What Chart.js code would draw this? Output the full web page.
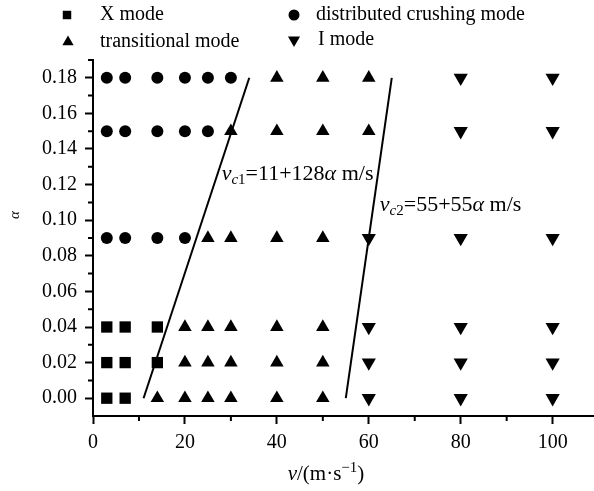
<!DOCTYPE html>
<html>
<head>
<meta charset="utf-8">
<script src="https://cdn.jsdelivr.net/npm/chart.js@4/dist/chart.umd.min.js"></script>
<style>
  html, body { margin: 0; padding: 0; background: #fff; }
  #canvas1 { width: 594px; height: 491px; position: relative; }
</style>
</head>
<body>
<div id="canvas1"><canvas id="Graphique"></canvas></div>
<script>
/*
  Carte des modes de rupture en fonction de la vitesse v et de alpha
*/

// X mode (carrés)
var xModeV = [3, 7, 14, 3, 7, 14, 3, 7];
var xModeAlpha = [0.04, 0.04, 0.04, 0.02, 0.02, 0.02, 0.00, 0.00];

// distributed crushing mode (cercles)
var crushV = [3, 7, 14, 20, 25, 30, 3, 7, 14, 20, 25, 3, 7, 14, 20];
var crushAlpha = [0.18, 0.18, 0.18, 0.18, 0.18, 0.18, 0.15, 0.15, 0.15, 0.15, 0.15, 0.09, 0.09, 0.09, 0.09];

// transitional mode (triangles)
var transV = [40, 50, 60, 30, 40, 50, 60, 25, 30, 40, 50, 20, 25, 30, 40, 50, 20, 25, 30, 40, 50, 14, 20, 25, 30, 40, 50];
var transAlpha = [0.18, 0.18, 0.18, 0.15, 0.15, 0.15, 0.15, 0.09, 0.09, 0.09, 0.09,
                  0.04, 0.04, 0.04, 0.04, 0.04, 0.02, 0.02, 0.02, 0.02, 0.02, 0.00, 0.00, 0.00, 0.00, 0.00, 0.00];

// I mode (triangles inversés)
var iModeV = [80, 100, 80, 100, 60, 80, 100, 60, 80, 100, 60, 80, 100, 60, 80, 100];
var iModeAlpha = [0.18, 0.18, 0.15, 0.15, 0.09, 0.09, 0.09, 0.04, 0.04, 0.04, 0.02, 0.02, 0.02, 0.00, 0.00, 0.00];

// vitesses critiques (extrémités des droites)
var vc1LineV = [11, 34];
var vc1LineAlpha = [0.00, 0.18];
var vc2LineV = [55, 65];
var vc2LineAlpha = [0.00, 0.18];

// graduations
var tickV = [0, 20, 40, 60, 80, 100];
var minorV = [10, 30, 50, 70, 90];
var tickAlpha = [0.00, 0.02, 0.04, 0.06, 0.08, 0.10, 0.12, 0.14, 0.16, 0.18];
var minorAlpha = [0.01, 0.03, 0.05, 0.07, 0.09, 0.11, 0.13, 0.15, 0.17, 0.19];

var SERIF = "'Liberation Serif', 'DejaVu Serif', serif";

function toPoints(xs, ys) {
    return xs.map(function (x, i) { return { x: x, y: ys[i] }; });
}

// écrit un texte en plusieurs morceaux (italique, indice, exposant)
function drawParts(ctx, x, y, parts) {
    parts.forEach(function (p) {
        ctx.font = p.font;
        ctx.fillText(p.t, x, y + (p.dy || 0));
        x += ctx.measureText(p.t).width;
    });
}

function partsWidth(ctx, parts) {
    var w = 0;
    parts.forEach(function (p) { ctx.font = p.font; w += ctx.measureText(p.t).width; });
    return w;
}

var decorPlugin = {
    id: 'decor',
    afterDraw: function (chart) {
        var ctx = chart.ctx;
        var xs = chart.scales.x;
        var ys = chart.scales.y;
        ctx.save();
        ctx.fillStyle = '#000';
        ctx.strokeStyle = '#000';
        ctx.lineWidth = 2;

        // petites graduations
        ctx.beginPath();
        minorV.forEach(function (v) {
            var px = xs.getPixelForValue(v);
            ctx.moveTo(px, chart.chartArea.bottom);
            ctx.lineTo(px, chart.chartArea.bottom + 5);
        });
        minorAlpha.forEach(function (a) {
            var py = ys.getPixelForValue(a);
            ctx.moveTo(chart.chartArea.left, py);
            ctx.lineTo(chart.chartArea.left - 5, py);
        });
        ctx.stroke();

        // légende
        var items = [
            { style: 'rect', r: 6, rot: 0, x: 67, y: 15, tx: 100, text: 'X mode' },
            { style: 'circle', r: 5.5, rot: 0, x: 294, y: 15, tx: 316, text: 'distributed crushing mode' },
            { style: 'triangle', r: 6.5, rot: 0, x: 68, y: 42, tx: 100, text: 'transitional mode' },
            { style: 'triangle', r: 7, rot: 180, x: 294, y: 40, tx: 318, text: 'I mode' }
        ];
        ctx.textBaseline = 'middle';
        items.forEach(function (it) {
            Chart.helpers.drawPoint(ctx, { pointStyle: it.style, radius: it.r, rotation: it.rot, borderWidth: 0 }, it.x, it.y);
            ctx.font = '20px ' + SERIF;
            ctx.fillText(it.text, it.tx, it.y);
        });

        // équations des droites
        ctx.textBaseline = 'alphabetic';
        var big = '22px ' + SERIF;
        var bigIt = 'italic 22px ' + SERIF;
        var sub = 'italic 15px ' + SERIF;
        var sub1 = '15px ' + SERIF;
        drawParts(ctx, xs.getPixelForValue(28), ys.getPixelForValue(0.1226), [
            { t: 'v', font: bigIt }, { t: 'c', font: sub, dy: 4 }, { t: '1', font: sub1, dy: 4 },
            { t: '=11+128', font: big }, { t: 'α', font: bigIt }, { t: ' m/s', font: big }
        ]);
        drawParts(ctx, xs.getPixelForValue(62.4), ys.getPixelForValue(0.105), [
            { t: 'v', font: bigIt }, { t: 'c', font: sub, dy: 4 }, { t: '2', font: sub1, dy: 4 },
            { t: '=55+55', font: big }, { t: 'α', font: bigIt }, { t: ' m/s', font: big }
        ]);

        // titre axe x
        var xt = [
            { t: 'v', font: 'italic 21px ' + SERIF }, { t: '/(m·s', font: '21px ' + SERIF },
            { t: '−1', font: '15px ' + SERIF, dy: -8 }, { t: ')', font: '21px ' + SERIF }
        ];
        drawParts(ctx, 326 - partsWidth(ctx, xt) / 2, 480, xt);

        // titre axe y
        ctx.translate(15, 215);
        ctx.rotate(-Math.PI / 2);
        ctx.textAlign = 'center';
        ctx.textBaseline = 'middle';
        ctx.font = 'italic 15px ' + SERIF;
        ctx.fillText('α', 0, 0);
        ctx.restore();
    }
};

var data = {
    datasets: [{
        label: 'X mode',
        data: toPoints(xModeV, xModeAlpha),
        pointStyle: 'rect',
        pointRadius: 8,
        backgroundColor: '#000',
        borderWidth: 0
    }, {
        label: 'distributed crushing mode',
        data: toPoints(crushV, crushAlpha),
        pointStyle: 'circle',
        pointRadius: 6,
        backgroundColor: '#000',
        borderWidth: 0
    }, {
        label: 'transitional mode',
        data: toPoints(transV, transAlpha),
        pointStyle: 'triangle',
        pointRadius: 7.8,
        backgroundColor: '#000',
        borderWidth: 0
    }, {
        label: 'I mode',
        data: toPoints(iModeV, iModeAlpha),
        pointStyle: 'triangle',
        pointRotation: 180,
        pointRadius: 8.2,
        backgroundColor: '#000',
        borderWidth: 0
    }, {
        label: 'vc1',
        data: toPoints(vc1LineV, vc1LineAlpha),
        showLine: true,
        pointRadius: 0,
        borderColor: '#000',
        borderWidth: 2
    }, {
        label: 'vc2',
        data: toPoints(vc2LineV, vc2LineAlpha),
        showLine: true,
        pointRadius: 0,
        borderColor: '#000',
        borderWidth: 2
    }]
};

var option = {
    responsive: true,
    maintainAspectRatio: false,
    animation: false,
    events: [],
    layout: { autoPadding: false, padding: { top: 60, left: 0, right: 0, bottom: 0 } },
    plugins: {
        legend: { display: false },
        tooltip: { enabled: false },
        title: { display: false }
    },
    scales: {
        x: {
            type: 'linear',
            min: 0,
            max: 109,
            afterBuildTicks: function (s) { s.ticks = tickV.map(function (v) { return { value: v }; }); },
            afterFit: function (s) { s.height = 75; s.paddingLeft = 0; s.paddingRight = 0; },
            grid: { drawOnChartArea: false, drawTicks: true, tickLength: 8, tickWidth: 2, tickColor: '#000' },
            border: { display: true, color: '#000', width: 2 },
            ticks: { color: '#000', font: { family: SERIF, size: 20 }, padding: 7, maxRotation: 0, autoSkip: false }
        },
        y: {
            type: 'linear',
            min: -0.01,
            max: 0.19,
            afterBuildTicks: function (s) { s.ticks = tickAlpha.map(function (v) { return { value: v }; }); },
            afterFit: function (s) { s.width = 93; s.paddingTop = 0; s.paddingBottom = 0; },
            grid: { drawOnChartArea: false, drawTicks: true, tickLength: 8, tickWidth: 2, tickColor: '#000' },
            border: { display: true, color: '#000', width: 2 },
            ticks: {
                color: '#000', font: { family: SERIF, size: 20 }, padding: 8, autoSkip: false,
                callback: function (v) { return v.toFixed(2); }
            }
        }
    }
};

var chartObj = new Chart(document.getElementById('Graphique').getContext('2d'), {
    type: 'scatter',
    data: data,
    options: option,
    plugins: [decorPlugin]
});
</script>
</body>
</html>
